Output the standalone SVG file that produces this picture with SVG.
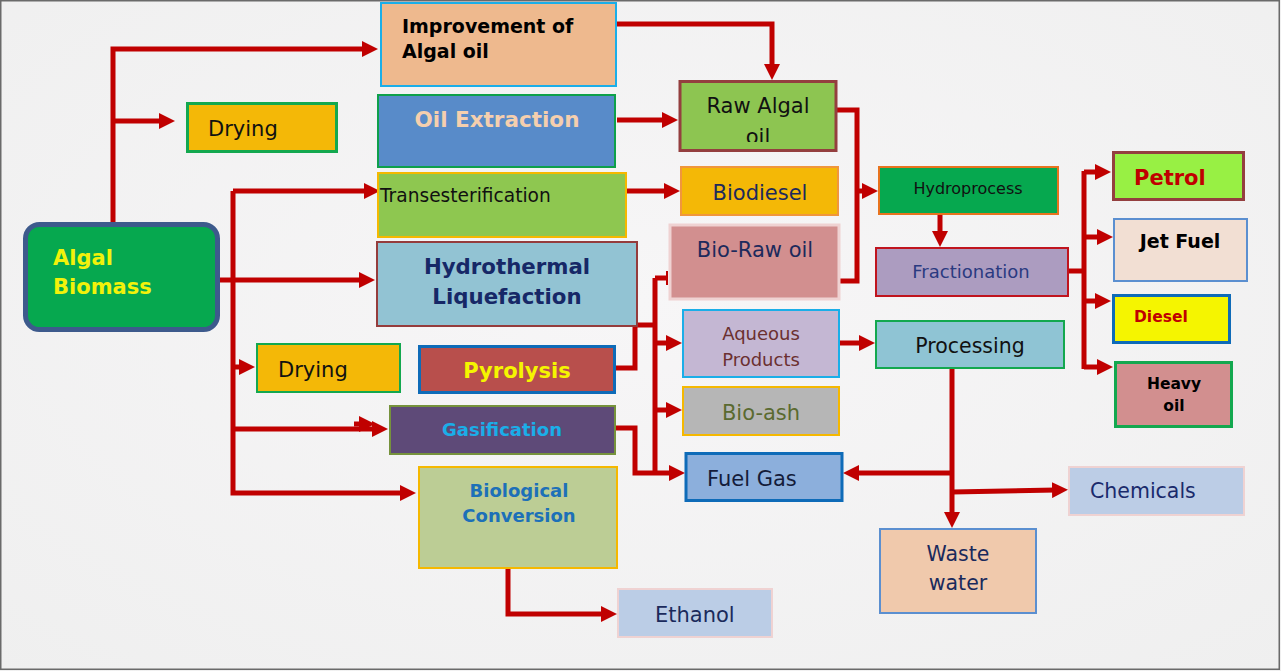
<svg xmlns="http://www.w3.org/2000/svg" width="1281" height="671" viewBox="0 0 1281 671">
<defs>
<radialGradient id="bg" cx="0.5" cy="0.45" r="0.75">
<stop offset="0" stop-color="#f7f6f7"/>
<stop offset="1" stop-color="#efefef"/>
</radialGradient>
<marker id="ah" markerUnits="userSpaceOnUse" markerWidth="16" markerHeight="16" refX="4" refY="8" orient="auto" viewBox="0 0 16 16">
<path d="M0,0 L16,8 L0,16 z" fill="#c00000"/>
</marker>
<clipPath id="rawclip"><rect x="680" y="80" width="156" height="62"/></clipPath>
<style>
.c{fill:none;stroke:#c00000;stroke-width:5;stroke-linejoin:miter}
.a{marker-end:url(#ah)}
text{font-family:"DejaVu Sans","Verdana",sans-serif}
.b{font-weight:bold}
.m{text-anchor:middle}
</style>
</defs>
<rect x="0" y="0" width="1281" height="671" fill="url(#bg)"/>
<rect x="0.75" y="0.75" width="1278.5" height="668.5" fill="none" stroke="#6a6a6a" stroke-width="1.5"/>

<g id="connectors">
<path class="c a" d="M113,223 V49 H366"/>
<path class="c a" d="M113,121 H163"/>
<path class="c a" d="M218,280 H363"/>
<path class="c a" d="M233,191 H368"/>
<path class="c a" d="M233,191 V493 H404"/>
<path class="c a" d="M233,367 H243"/>
<path class="c a" d="M233,429 H376"/>
<path class="c a" d="M354,424 H363"/>
<path class="c a" d="M617,24 H772 V68"/>
<path class="c a" d="M617,120 H666"/>
<path class="c a" d="M617,191 H668"/>
<path class="c" d="M837,110 H857 V281 H840"/>
<path class="c a" d="M857,191 H866"/>
<path class="c a" d="M940,215 V235"/>
<path class="c" d="M1069,271 H1084"/>
<path class="c" d="M1084,171 V369"/>
<path class="c a" d="M1084,172 H1099"/>
<path class="c a" d="M1084,237 H1101"/>
<path class="c a" d="M1084,301 H1099"/>
<path class="c a" d="M1084,367 H1101"/>
<path class="c" d="M615,281 H635 V368 H616"/>
<path class="c" d="M637,325 H655"/>
<path class="c" d="M655,278 V473"/>
<path class="c" d="M655,278 H668"/>
<path d="M667,271 V285" stroke="#c00000" stroke-width="2"/>
<path class="c a" d="M655,343 H670"/>
<path class="c a" d="M655,410 H670"/>
<path class="c a" d="M616,428 H635 V473 H673"/>
<path class="c a" d="M840,343 H863"/>
<path class="c a" d="M952,369 V516"/>
<path class="c a" d="M952,473 H855"/>
<path class="c a" d="M952,492 L1056,490"/>
<path class="c a" d="M508,542 V614 H605"/>
</g>

<g id="algal-biomass">
<rect x="25.5" y="224.5" width="192" height="105" rx="14" fill="#06a84f" stroke="#3d5a8c" stroke-width="5"/>
<text x="53" y="265" class="b" font-size="21" fill="#f2f20a">Algal</text>
<text x="53" y="294" class="b" font-size="21" fill="#f2f20a">Biomass</text>
</g>

<g id="improvement">
<rect x="381" y="3" width="235" height="83" fill="#eeb98e" stroke="#1aaee8" stroke-width="2"/>
<text x="402" y="33" class="b" font-size="19" fill="#000">Improvement of</text>
<text x="402" y="58" class="b" font-size="19" fill="#000">Algal oil</text>
</g>

<g id="drying-top">
<rect x="187.5" y="103.5" width="149" height="48" fill="#f4b807" stroke="#13a84f" stroke-width="3"/>
<text x="208" y="136" font-size="21" fill="#111">Drying</text>
</g>

<g id="oil-extraction">
<rect x="378" y="95" width="237" height="72" fill="#588bc9" stroke="#0ea04a" stroke-width="2"/>
<text x="497" y="127" class="b m" font-size="21.5" fill="#f5cfae">Oil Extraction</text>
</g>

<g id="transesterification">
<rect x="378" y="173" width="248" height="64" fill="#8ec750" stroke="#f5b800" stroke-width="2"/>
<text x="380" y="202" font-size="18.6" fill="#111">Transesterification</text>
</g>

<g id="htl">
<rect x="377" y="242" width="260" height="84" fill="#92c3d3" stroke="#953c3c" stroke-width="2"/>
<text x="507" y="274" class="b m" font-size="21.3" fill="#162867">Hydrothermal</text>
<text x="507" y="304" class="b m" font-size="21.3" fill="#162867">Liquefaction</text>
</g>

<g id="raw-algal-oil">
<rect x="680" y="81.5" width="156" height="69" fill="#8dc551" stroke="#943f3f" stroke-width="3"/>
<text x="758" y="113" class="m" font-size="21" fill="#111">Raw Algal</text>
<text x="758" y="143.5" class="m" font-size="21" fill="#111" clip-path="url(#rawclip)">oil</text>
</g>

<g id="biodiesel">
<rect x="681" y="167" width="157" height="48" fill="#f4b806" stroke="#f0963c" stroke-width="2"/>
<text x="760" y="200" class="m" font-size="21" fill="#1d2a5c">Biodiesel</text>
</g>

<g id="bio-raw-oil">
<rect x="670" y="225" width="169" height="74" fill="#d28f8f" stroke="#efd2d2" stroke-width="3"/>
<text x="755" y="257" class="m" font-size="21" fill="#1d2a5c">Bio-Raw oil</text>
</g>

<g id="aqueous">
<rect x="683" y="310" width="156" height="67" fill="#c4b7d3" stroke="#1aaee8" stroke-width="2"/>
<text x="761" y="340" class="m" font-size="18" fill="#6b3030">Aqueous</text>
<text x="761" y="366" class="m" font-size="18" fill="#6b3030">Products</text>
</g>

<g id="bio-ash">
<rect x="683" y="387" width="156" height="48" fill="#b6b6b6" stroke="#f5b800" stroke-width="2"/>
<text x="761" y="420" class="m" font-size="21" fill="#5a6a30">Bio-ash</text>
</g>

<g id="fuel-gas">
<rect x="686" y="453.5" width="156" height="47" fill="#8cafdc" stroke="#0e6bb8" stroke-width="3"/>
<text x="707" y="486" font-size="21" fill="#141c3a">Fuel Gas</text>
</g>

<g id="hydroprocess">
<rect x="879" y="167" width="179" height="47" fill="#06a84f" stroke="#e8731e" stroke-width="2"/>
<text x="968" y="194" class="m" font-size="16" fill="#111">Hydroprocess</text>
</g>

<g id="fractionation">
<rect x="876" y="248" width="192" height="48" fill="#ac9cc0" stroke="#c0141e" stroke-width="2"/>
<text x="971" y="278" class="m" font-size="18" fill="#2a3a80">Fractionation</text>
</g>

<g id="processing">
<rect x="876" y="321" width="188" height="47" fill="#8fc4d4" stroke="#13a84f" stroke-width="2"/>
<text x="970" y="353" class="m" font-size="20.5" fill="#111">Processing</text>
</g>

<g id="petrol">
<rect x="1113.5" y="152.5" width="130" height="47" fill="#98f044" stroke="#943f3f" stroke-width="3"/>
<text x="1134" y="185" class="b" font-size="21" fill="#c00000">Petrol</text>
</g>

<g id="jet-fuel">
<rect x="1114" y="219" width="133" height="62" fill="#f2dfd3" stroke="#5b8fd0" stroke-width="2"/>
<text x="1180" y="248" class="b m" font-size="19" fill="#000">Jet Fuel</text>
</g>

<g id="diesel">
<rect x="1113.5" y="295.5" width="116" height="47" fill="#f5f500" stroke="#0e6bb8" stroke-width="3"/>
<text x="1134" y="322" class="b" font-size="15.5" fill="#c00000">Diesel</text>
</g>

<g id="heavy-oil">
<rect x="1115.5" y="362.5" width="116" height="64" fill="#d28f8f" stroke="#13a84f" stroke-width="3"/>
<text x="1174" y="389" class="b m" font-size="15.5" fill="#000">Heavy</text>
<text x="1174" y="411" class="b m" font-size="15.5" fill="#000">oil</text>
</g>

<g id="drying-bottom">
<rect x="257" y="344" width="143" height="48" fill="#f4b807" stroke="#13a84f" stroke-width="2"/>
<text x="278" y="377" font-size="21" fill="#111">Drying</text>
</g>

<g id="pyrolysis">
<rect x="419.5" y="346.5" width="195" height="46" fill="#b84f4c" stroke="#0e6bb8" stroke-width="3"/>
<text x="517" y="378" class="b m" font-size="21" fill="#f5f500">Pyrolysis</text>
</g>

<g id="gasification">
<rect x="390" y="406" width="225" height="48" fill="#5e4a78" stroke="#76923c" stroke-width="2"/>
<text x="502" y="436" class="b m" font-size="18" fill="#1aaee8">Gasification</text>
</g>

<g id="biological-conversion">
<rect x="419" y="467" width="198" height="101" fill="#bccd95" stroke="#f5b800" stroke-width="2"/>
<text x="519" y="497" class="b m" font-size="18" fill="#1d70b8">Biological</text>
<text x="519" y="522" class="b m" font-size="18" fill="#1d70b8">Conversion</text>
</g>

<g id="ethanol">
<rect x="618" y="589" width="154" height="48" fill="#bbcde6" stroke="#efd2d2" stroke-width="2"/>
<text x="655" y="622" font-size="21" fill="#1a2a5c">Ethanol</text>
</g>

<g id="waste-water">
<rect x="880" y="529" width="156" height="84" fill="#f0c9ac" stroke="#5b8fd0" stroke-width="2"/>
<text x="958" y="561" class="m" font-size="20.5" fill="#1a2a5c">Waste</text>
<text x="958" y="590" class="m" font-size="20.5" fill="#1a2a5c">water</text>
</g>

<g id="chemicals">
<rect x="1069" y="467" width="175" height="48" fill="#bccde6" stroke="#efd2d2" stroke-width="2"/>
<text x="1090" y="498" font-size="20.5" fill="#1a2a6c">Chemicals</text>
</g>
</svg>
